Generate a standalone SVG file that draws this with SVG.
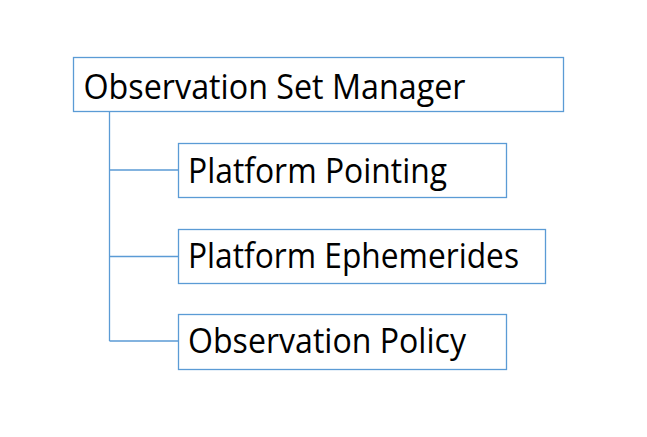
<svg xmlns="http://www.w3.org/2000/svg" width="647" height="437" viewBox="0 0 647 437">
<style>
.box{fill:#fff;stroke:#5b9bd5;stroke-width:1.3}
.lbl{font-family:"Open Sans","Liberation Sans",sans-serif;font-size:34px;fill:#000}
.con{fill:none;stroke:#5b9bd5;stroke-width:1.3}
</style>
<rect width="647" height="437" fill="#fff"/>
<g id="connectors">
<path class="con" d="M109.5 111.5 V341 M109.5 170 H178.5 M109.5 256.5 H178.5 M109.5 341 H178.5"/>
</g>
<g id="manager">
<rect class="box" x="73.5" y="57.5" width="490" height="54"/>
<text class="lbl" x="83.5" y="99.3" textLength="382" lengthAdjust="spacingAndGlyphs">Observation Set Manager</text>
</g>
<g id="pointing">
<rect class="box" x="178.5" y="143.5" width="328" height="54"/>
<text class="lbl" x="188" y="183.3" textLength="259" lengthAdjust="spacingAndGlyphs">Platform Pointing</text>
</g>
<g id="ephemerides">
<rect class="box" x="178.5" y="229.5" width="367" height="54"/>
<text class="lbl" x="188" y="268.3" textLength="331" lengthAdjust="spacingAndGlyphs">Platform Ephemerides</text>
</g>
<g id="policy">
<rect class="box" x="178.5" y="314.5" width="328" height="55"/>
<text class="lbl" x="188" y="353.3" textLength="278" lengthAdjust="spacingAndGlyphs">Observation Policy</text>
</g>
</svg>
